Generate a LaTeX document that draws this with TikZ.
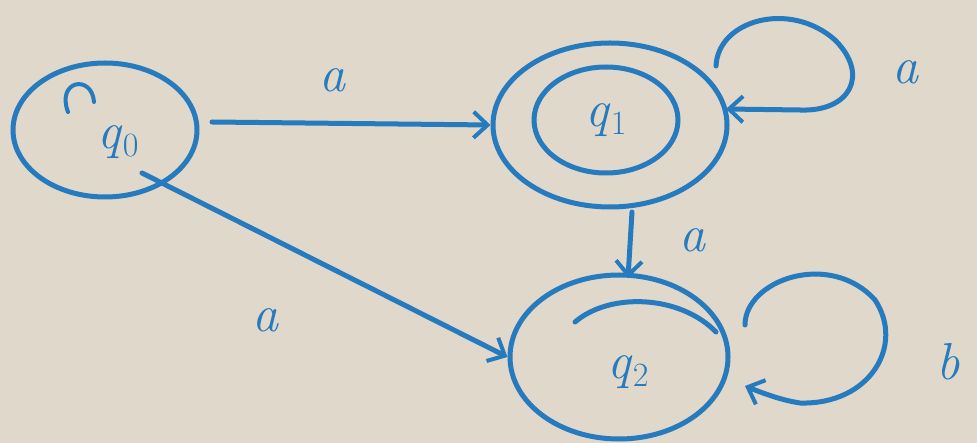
\documentclass[tikz,border=0pt]{standalone}
\usetikzlibrary{shapes.geometric,arrows.meta}
\definecolor{paper}{RGB}{224,216,203}
\definecolor{ink}{RGB}{38,122,190}
\newcommand{\stq}[1]{\textit{q}\raisebox{-0.35ex}{\fontsize{34}{36}\selectfont #1}}
\begin{document}
\begin{tikzpicture}[x=1pt,y=-1pt,
  ink/.style={draw=ink,line width=5pt,line cap=round},
  stateE/.style={ellipse,ink,inner sep=0pt,text=ink,font=\fontsize{52}{56}\selectfont},
  lbl/.style={text=ink,font=\fontsize{52}{56}\selectfont\itshape},
  arr/.style={ink,-{Straight Barb[length=14pt,width=26pt,line width=4pt]}}]
\fill[paper] (0,0) rectangle (977,443);
\useasboundingbox (0,0) rectangle (977,443);
% states
\node[stateE,minimum width=184pt,minimum height=134pt] (q0) at (105,130) {};
\node[text=ink,font=\fontsize{52}{56}\selectfont] (t0) at (118,142) {\stq{0}};
\node[stateE,minimum width=234pt,minimum height=164pt] (q1) at (610,125) {};
\node[stateE,minimum width=144pt,minimum height=106pt] (q1in) at (606,120) {\stq{1}};
\node[stateE,minimum width=218pt,minimum height=164pt] (q2) at (619,357) {};
\node[text=ink,font=\fontsize{52}{56}\selectfont] (t2) at (628,372) {\stq{2}};
% hand-drawn marks
\draw[ink,line width=4pt] (68,112) .. controls (56,80) and (92,74) .. (94,102);
\draw[ink] (575,322) .. controls (610,292) and (680,295) .. (716,332);
% transitions
\coordinate (s01) at (212,122);
\draw[arr] (s01) -- (q1.west);
\coordinate (s02) at (142,173);
\draw[arr] (s02) -- (q2.west);
\coordinate (s12) at (632,212);
\coordinate (e12) at (628,278);
\draw[arr] (s12) -- (e12);
% loops
\coordinate (l1s) at (716,66);
\coordinate (l1e) at (726,109);
\draw[arr] (l1s) .. controls (718,20) and (790,0) .. (835,40)
  .. controls (870,75) and (850,112) .. (800,110) -- (l1e);
\coordinate (l2s) at (745,325);
\coordinate (l2e) at (745,386);
\draw[arr] (l2s) .. controls (745,280) and (830,250) .. (875,300)
  .. controls (905,345) and (870,405) .. (800,403) .. controls (780,400) and (760,392) .. (l2e);
% labels
\node[lbl] (la1) at (332,80) {a};
\node[lbl] (la2) at (905,72) {a};
\node[lbl] (la3) at (692,240) {a};
\node[lbl] (la4) at (265,320) {a};
\node[lbl] (lb) at (948,362) {b};
\end{tikzpicture}
\end{document}
